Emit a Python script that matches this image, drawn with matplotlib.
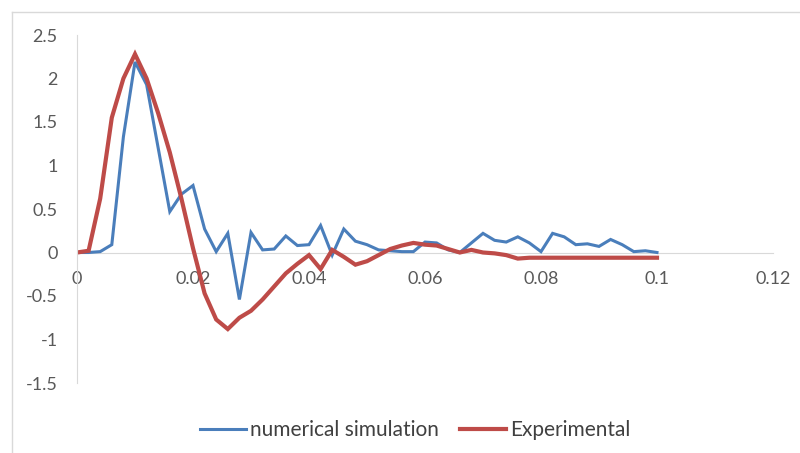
import numpy as np
import matplotlib
matplotlib.use('Agg')
import matplotlib.pyplot as plt
from matplotlib.lines import Line2D
from matplotlib.ticker import FuncFormatter

plt.rcParams['font.family'] = ['Lato', 'DejaVu Sans']

# time steps (s), one sample every 0.002
t = [i * 0.002 for i in range(51)]

numerical = [0.0, 0.0, 0.01, 0.09, 1.33, 2.19, 1.93, 1.2, 0.47, 0.67,
             0.77, 0.27, 0.01, 0.22, -0.54, 0.23, 0.03, 0.04, 0.19, 0.08,
             0.09, 0.31, -0.03, 0.27, 0.13, 0.09, 0.03, 0.02, 0.01, 0.01,
             0.12, 0.11, 0.03, 0.0, 0.11, 0.22, 0.14, 0.12, 0.18, 0.11,
             0.01, 0.22, 0.18, 0.09, 0.1, 0.07, 0.15, 0.09, 0.01, 0.02,
             0.0]

experimental = [0.0, 0.02, 0.62, 1.55, 2.0, 2.28, 2.0, 1.6, 1.15, 0.62,
                0.05, -0.47, -0.77, -0.88, -0.75, -0.67, -0.54, -0.39, -0.24, -0.13,
                -0.03, -0.19, 0.03, -0.05, -0.14, -0.1, -0.03, 0.04, 0.08, 0.11,
                0.09, 0.08, 0.04, 0.0, 0.03, 0.0, -0.01, -0.03, -0.07, -0.06,
                -0.06, -0.06, -0.06, -0.06, -0.06, -0.06, -0.06, -0.06, -0.06, -0.06,
                -0.06]

xticks = [0, 0.02, 0.04, 0.06, 0.08, 0.1, 0.12]
yticks = [-1.5, -1, -0.5, 0, 0.5, 1, 1.5, 2, 2.5]

blue = '#4A7EBB'
red = '#BE4B48'
grey_txt = '#595959'
grey_line = '#D9D9D9'

fig = plt.figure(figsize=(8, 4.53), dpi=100)
ax = fig.add_axes([77/800, 1-383/453, 696/800, 348/453])

ax.plot(t, numerical, color=blue, lw=2.2, solid_joinstyle='miter')
ax.plot(t, experimental, color=red, lw=3.0, solid_joinstyle='miter')

ax.set_xlim(0, 0.12)
ax.set_ylim(-1.5, 2.5)
ax.set_xticks(xticks)
ax.set_yticks(yticks)

def fmt(v, pos):
    s = ('%.2f' % v).rstrip('0').rstrip('.')
    return '0' if s in ('-0', '') else s

ax.xaxis.set_major_formatter(FuncFormatter(fmt))
ax.yaxis.set_major_formatter(FuncFormatter(fmt))

for s in ['top', 'right']:
    ax.spines[s].set_visible(False)
ax.spines['bottom'].set_position(('data', 0))
ax.spines['bottom'].set_color(grey_line)
ax.spines['left'].set_color(grey_line)
ax.spines['bottom'].set_zorder(0)
ax.tick_params(axis='both', length=0, labelsize=13, colors=grey_txt)
ax.tick_params(axis='x', pad=13)
ax.tick_params(axis='y', pad=14)

# chart frame
fig.add_artist(Line2D([12/800, 12/800], [0, 1-12/453], color=grey_line, lw=1))
fig.add_artist(Line2D([12/800, 1], [1-12/453, 1-12/453], color=grey_line, lw=1))

handles = [Line2D([], [], color=blue, lw=2.2), Line2D([], [], color=red, lw=3.0)]
fig.legend(handles, ['numerical simulation', 'Experimental'], loc='center',
           bbox_to_anchor=(415/800, 1-430/453), ncol=2, frameon=False,
           fontsize=15, handlelength=2.2, handletextpad=0.2, columnspacing=1.0,
           labelcolor='#404040')

fig.savefig('out.png', dpi=100)
